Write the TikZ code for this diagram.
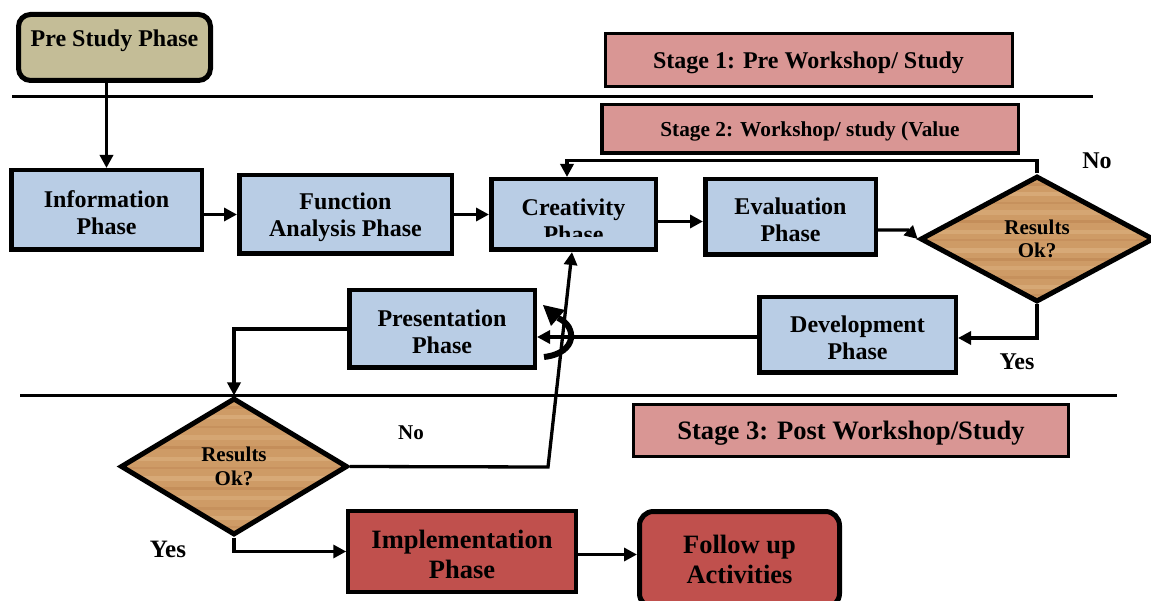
\documentclass[tikz,border=0pt]{standalone}
\usepackage{fontspec}
\setmainfont{Liberation Serif}
\usetikzlibrary{arrows.meta,shapes.geometric,calc}
\definecolor{boxblue}{HTML}{B9CDE5}
\definecolor{stagepink}{HTML}{D99694}
\definecolor{pretan}{HTML}{C4BD97}
\definecolor{impred}{HTML}{C0504D}
\definecolor{wood}{HTML}{CE9B66}
\definecolor{wooddark}{HTML}{A8693A}
\definecolor{woodlight}{HTML}{E4BC8C}
\newcommand\mystrut[1]{\rule{0pt}{#1}}
\begin{document}
\begin{tikzpicture}[x=1pt,y=-1pt,
  box/.style={draw=black, line width=4.5pt, fill=boxblue, align=center, inner sep=0pt,
    font=\fontsize{24}{27}\selectfont\bfseries},
  redbox/.style={box, fill=impred, line width=4pt, font=\fontsize{26.5}{30}\selectfont\bfseries},
  stagebox/.style={draw=black, line width=3pt, fill=stagepink, inner sep=0pt},
  decision/.style={diamond, draw=black, line width=5pt, fill=wood, inner sep=0pt, align=center,
    font=\fontsize{21}{23.5}\selectfont\bfseries,
    path picture={
      \foreach \f/\c/\o/\w in {0.05/wooddark/0.25/3, 0.12/woodlight/0.45/4, 0.2/wooddark/0.2/2,
        0.27/woodlight/0.35/5, 0.35/wooddark/0.25/3, 0.43/woodlight/0.4/4, 0.5/wooddark/0.18/2,
        0.57/woodlight/0.45/5, 0.65/wooddark/0.25/3, 0.72/woodlight/0.35/4, 0.8/wooddark/0.2/3,
        0.87/woodlight/0.4/4, 0.94/wooddark/0.2/2}{
        \fill[\c, opacity=\o] ($(path picture bounding box.north west)!\f!(path picture bounding box.south west)$) rectangle ++(300,\w);}
    }},
  arr/.style={line width=3.3pt, -{Triangle[length=13pt,width=13pt]}},
  sepline/.style={line width=3pt},
  lbl/.style={anchor=base, inner sep=0pt}
]
\clip (0,0) rectangle (1151,601);

% separator lines
\draw[sepline] (12,97) -- (1093,97);
\draw[sepline] (20,395) -- (1117,395);

% stage labels
\node[stagebox, minimum width=407pt, minimum height=53pt, font=\fontsize{24}{27}\selectfont\bfseries] (st1) at (808.5,60) {\mystrut{22.5pt}Stage 1: Pre Workshop/ Study};
\node[stagebox, line width=3.5pt, minimum width=416.5pt, minimum height=48.5pt, font=\fontsize{21.3}{24}\selectfont\bfseries] (st2) at (810,129) {\mystrut{20.5pt}Stage 2: Workshop/ study (Value};
\node[stagebox, minimum width=435pt, minimum height=52pt, font=\fontsize{26.6}{30}\selectfont\bfseries] (st3) at (851,430.5) {\mystrut{24.5pt}Stage 3: Post Workshop/Study};

% phase boxes
\node[box, fill=pretan, rounded corners=12pt, line width=5pt, minimum width=192pt, minimum height=66pt, text height=18pt, text depth=19pt] (pre) at (114.5,47.5) {Pre Study Phase};
\node[box, minimum width=190.5pt, minimum height=79.5pt] (info) at (106.5,210) {\mystrut{22.5pt}Information\\Phase};
\node[box, minimum width=212.5pt, minimum height=78.5pt] (func) at (345.5,214.5) {\mystrut{22.5pt}Function\\Analysis Phase};
\node[box, minimum width=164.5pt, minimum height=70.5pt] (cre) at (573.5,214.5) {};
\begin{scope}
  \clip (491,179) rectangle (656,237);
  \node[align=center, inner sep=0pt, font=\fontsize{24}{27}\selectfont\bfseries] (crelbl) at (573.5,220.3) {Creativity\\Phase};
\end{scope}
\node[box, minimum width=170.5pt, minimum height=75.5pt] (eva) at (790.5,217) {\mystrut{22.5pt}Evaluation\\Phase};
\node[decision, minimum width=233.5pt, minimum height=126pt] (dec1) at (1037,239) {Results\\Ok?};
\node[box, minimum width=196.5pt, minimum height=75.5pt] (dev) at (857.5,335) {\mystrut{22.5pt}Development\\Phase};
\node[box, minimum width=185.5pt, minimum height=77.5pt] (pres) at (442,329) {\mystrut{22.5pt}Presentation\\Phase};
\node[decision, minimum width=227pt, minimum height=137pt] (dec2) at (234,466.5) {Results\\Ok?};
\node[redbox, minimum width=227.5pt, minimum height=81pt] (imp) at (462,551.5) {\mystrut{24.5pt}Implementation\\Phase};
\node[redbox, rounded corners=14pt, line width=5pt, minimum width=200pt, minimum height=96pt] (fol) at (739.5,559.5) {\mystrut{24.5pt}Follow up\\Activities\rule[-7pt]{0pt}{7pt}};

% connectors
\draw[arr] (info.north |- pre.south) -- (info.north);
\draw[arr] (info.east |- func.west) -- (func.west);
\draw[arr] (func.east) -- (cre.west);
\draw[arr] ($(cre.east)+(0,7)$) coordinate (c2e) -- (c2e -| eva.west);
\draw[arr] ($(eva.east)+(0,13)$) -- ++(30,0) -- (dec1.west);
\draw[arr] (dec1.north) -- ++(0,-13) -| ($(cre.north)+(-6.5,0)$);
\draw[arr] (dec1.south) |- ($(dev.east)+(0,3)$);
\draw[arr] ($(dev.west)+(0,2)$) coordinate (d2p) -- (d2p -| pres.east);
\draw[arr] (pres.west) -| (dec2.north);
\coordinate (kink) at (548,467);
\draw[arr] (dec2.east) -- (kink) -- ($(cre.south)+(-1.5,0)$);
\draw[arr] (dec2.south) |- (imp.west);
\draw[arr] ($(imp.east)+(0,3)$) coordinate (i2f) -- (i2f -| fol.west);

% crossing symbol
\draw[line width=6pt] (544,357) .. controls (578,353) and (577,326) .. (558,318);
\fill (543,305) -- (565,310) -- (551,326) -- cycle;

% branch labels
\node[lbl, font=\fontsize{24}{27}\selectfont\bfseries] (no1) at (1097,169) {No};
\node[lbl, font=\fontsize{24}{27}\selectfont\bfseries] (yes1) at (1017,370) {Yes};
\node[lbl, font=\fontsize{21}{24}\selectfont\bfseries] (no2) at (411,439) {No};
\node[lbl, font=\fontsize{25}{28}\selectfont\bfseries] (yes2) at (168,557) {Yes};
\end{tikzpicture}
\end{document}
